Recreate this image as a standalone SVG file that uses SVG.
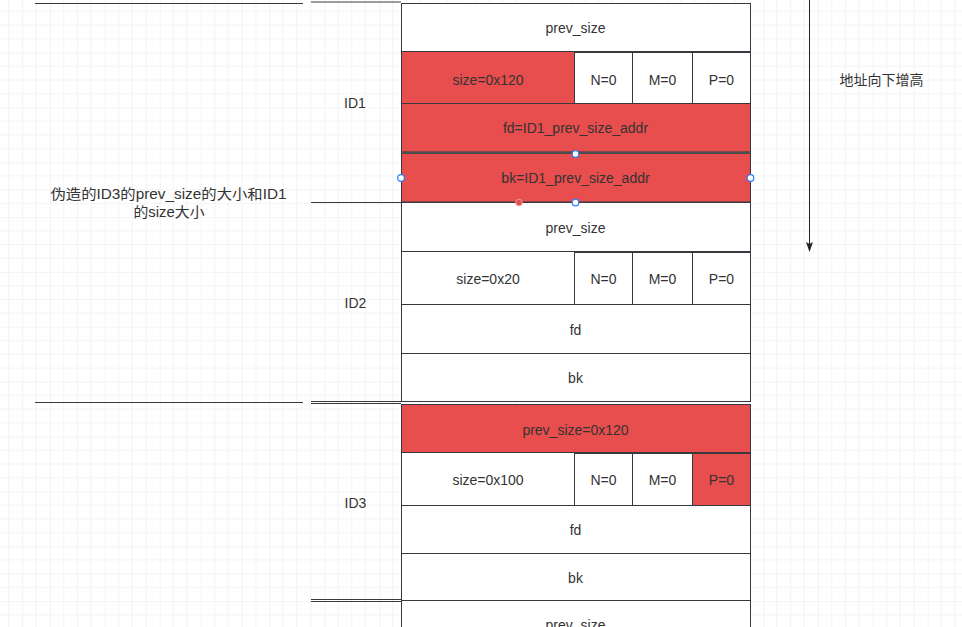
<svg xmlns="http://www.w3.org/2000/svg" width="962" height="627" viewBox="0 0 962 627">
<defs>
<pattern id="grid" x="-4.857" y="-2.286" width="54.857" height="54.857" patternUnits="userSpaceOnUse">
<path d="M13.714 0V54.857M27.429 0V54.857M41.143 0V54.857M0 13.714H54.857M0 27.429H54.857M0 41.143H54.857" stroke="#f3f3f3" stroke-width="1" fill="none"/>
<path d="M0 0V54.857M0 0H54.857" stroke="#e9e9e9" stroke-width="1" fill="none"/>
</pattern>
<marker id="arrow" viewBox="0 0 10 10" refX="9" refY="5" markerWidth="10" markerHeight="10" markerUnits="userSpaceOnUse" orient="auto">
<path d="M0 1.5L10 5L0 8.5L2 5Z" fill="#222"/>
</marker>
<style>
.cell{stroke:#36393d;stroke-width:1;}
.w{fill:#ffffff;}
.r{fill:#e84e4e;}
.t{font-family:"Liberation Sans",Arial,sans-serif;font-size:14px;fill:#333333;text-anchor:middle;}
.cjk{font-family:"Liberation Sans","Noto Sans CJK SC",sans-serif;font-size:14px;fill:#333333;text-anchor:middle;}
.ln{stroke:#36393d;stroke-width:1;fill:none;}
.hb{fill:#ffffff;stroke:#2f7ff5;stroke-width:1.2;}
</style>
</defs>
<rect x="0" y="0" width="962" height="627" fill="#ffffff"/>
<rect x="0" y="0" width="962" height="627" fill="url(#grid)"/>

<g id="note">
<line class="ln" x1="35" y1="3.5" x2="303" y2="3.5"/>
<line class="ln" x1="35" y1="402.5" x2="303" y2="402.5"/>
<text class="cjk" x="168.5" y="199" textLength="236" lengthAdjust="spacingAndGlyphs">伪造的ID3的prev_size的大小和ID1</text>
<text class="cjk" x="169" y="217" textLength="71" lengthAdjust="spacingAndGlyphs">的size大小</text>
</g>

<g id="id1-label">
<line class="ln" x1="311" y1="2" x2="401" y2="2" stroke-width="2"/>
<line class="ln" x1="311" y1="202.5" x2="401" y2="202.5"/>
<text class="t" x="355" y="108">ID1</text>
</g>
<g id="id2-label">
<line class="ln" x1="311" y1="401.5" x2="401" y2="401.5"/>
<text class="t" x="355.5" y="308">ID2</text>
</g>
<g id="id3-label">
<line class="ln" x1="311" y1="403.5" x2="401" y2="403.5"/>
<line class="ln" x1="311" y1="599.5" x2="401" y2="599.5"/>
<line class="ln" x1="311" y1="601.5" x2="401" y2="601.5"/>
<text class="t" x="355.5" y="508">ID3</text>
</g>

<g id="chunk-top">
<rect class="cell w" x="401.5" y="3.5" width="349" height="48"/>
<text class="t" x="575.5" y="33">prev_size</text>
</g>

<g id="id1-chunk">
<rect class="cell r" x="401.5" y="51.5" width="173" height="52"/>
<text class="t" x="488" y="85">size=0x120</text>
<rect class="cell w" x="574.5" y="52.5" width="58" height="51"/>
<text class="t" x="603.5" y="85">N=0</text>
<rect class="cell w" x="632.5" y="52.5" width="60" height="51"/>
<text class="t" x="662.5" y="85">M=0</text>
<rect class="cell w" x="692.5" y="52.5" width="58" height="51"/>
<text class="t" x="721.5" y="85">P=0</text>
<rect class="cell r" x="401.5" y="103.5" width="349" height="48.5"/>
<text class="t" x="575.5" y="133">fd=ID1_prev_size_addr</text>
<rect class="cell r" x="401.5" y="153.5" width="349" height="48.5"/>
<line x1="401" y1="152.8" x2="751" y2="152.8" stroke="#505050" stroke-width="2"/>
<text class="t" x="575.5" y="183">bk=ID1_prev_size_addr</text>
</g>

<g id="id2-chunk">
<rect class="cell w" x="401.5" y="202.5" width="349" height="49"/>
<text class="t" x="575.5" y="233">prev_size</text>
<rect class="cell w" x="401.5" y="251.5" width="173" height="53"/>
<text class="t" x="488" y="284">size=0x20</text>
<rect class="cell w" x="574.5" y="252.5" width="58" height="52"/>
<text class="t" x="603.5" y="284">N=0</text>
<rect class="cell w" x="632.5" y="252.5" width="60" height="52"/>
<text class="t" x="662.5" y="284">M=0</text>
<rect class="cell w" x="692.5" y="252.5" width="58" height="52"/>
<text class="t" x="721.5" y="284">P=0</text>
<rect class="cell w" x="401.5" y="304.5" width="349" height="49"/>
<text class="t" x="575.5" y="335">fd</text>
<rect class="cell w" x="401.5" y="353.5" width="349" height="48"/>
<text class="t" x="575.5" y="383">bk</text>
</g>

<g id="id3-chunk">
<rect class="cell r" x="401.5" y="404.5" width="349" height="48"/>
<text class="t" x="575.5" y="435">prev_size=0x120</text>
<rect class="cell w" x="401.5" y="452.5" width="173" height="53"/>
<text class="t" x="488" y="485">size=0x100</text>
<rect class="cell w" x="574.5" y="453.5" width="58" height="52"/>
<text class="t" x="603.5" y="485">N=0</text>
<rect class="cell w" x="632.5" y="453.5" width="60" height="52"/>
<text class="t" x="662.5" y="485">M=0</text>
<rect class="cell r" x="692.5" y="453.5" width="58" height="52"/>
<text class="t" x="721.5" y="485">P=0</text>
<rect class="cell w" x="401.5" y="505.5" width="349" height="48"/>
<text class="t" x="575.5" y="535">fd</text>
<rect class="cell w" x="401.5" y="553.5" width="349" height="47"/>
<text class="t" x="575.5" y="583">bk</text>
</g>

<g id="chunk-bottom">
<rect class="cell w" x="401.5" y="600.5" width="349" height="48"/>
<text class="t" x="575.5" y="630">prev_size</text>
</g>

<g id="addr-label">
<text class="cjk" x="881.5" y="85">地址向下增高</text>
</g>

<g id="connectors">
<line x1="809.5" y1="0" x2="809.5" y2="251" stroke="#222" stroke-width="1" marker-end="url(#arrow)"/>
</g>

<g id="selection">
<circle class="hb" cx="575.5" cy="154" r="3.3"/>
<circle class="hb" cx="401" cy="178" r="3.3"/>
<circle class="hb" cx="750.5" cy="178" r="3.3"/>
<circle class="hb" cx="575.5" cy="202.5" r="3.3"/>
<circle cx="519" cy="202.5" r="3.3" fill="#e84e4e" stroke="#f29a9a" stroke-width="1"/>
</g>
</svg>
